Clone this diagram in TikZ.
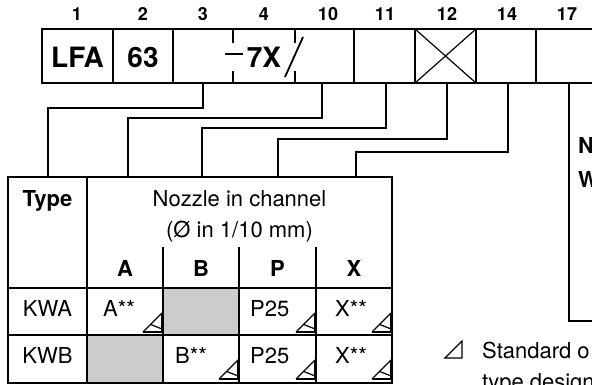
\documentclass[tikz,border=0pt]{standalone}
\usepackage{fontspec}
\setmainfont{TeX Gyre Heros}
\begin{document}
\begin{tikzpicture}[x=1pt,y=-1pt,
  boxline/.style={line width=2pt},
  tickline/.style={line width=1.6pt},
  conn/.style={line width=1.1pt},
  gridline/.style={line width=1.1pt},
  grayfill/.style={fill=cellgray, draw=none},
  boxtxt/.style={font=\fontsize{28}{28}\selectfont\bfseries, anchor=base, inner sep=0pt},
  lbl/.style={font=\fontsize{18}{18}\selectfont\bfseries, anchor=base, inner sep=0pt},
  tabtxt/.style={font=\fontsize{22}{22}\selectfont, anchor=base, inner sep=0pt},
  tabbold/.style={font=\fontsize{22}{22}\selectfont\bfseries, anchor=base, inner sep=0pt},
  celltxt/.style={font=\fontsize{22}{22}\selectfont, anchor=base west, inner sep=0pt},
  trithick/.style={line width=2pt},
  trithin/.style={line width=1.2pt},
]
\definecolor{cellgray}{RGB}{204,204,204}
\useasboundingbox (0,0) rectangle (592,385);

% ---------- top code box ----------
\draw[boxline] (600,29) -- (42,29) -- (42,83) -- (600,83);
\foreach \x in {113,173,354,415,476,536}
  \draw[boxline] (\x,29) -- (\x,83);
\draw[tickline] (233,29) -- (233,43) (233,71) -- (233,83)
                (295,29) -- (295,43) (295,71) -- (295,83);
\draw[line width=1.2pt] (415,29) -- (476,83) (415,83) -- (476,29);
\draw[tickline] (225,54) -- (243,54);
\draw[line width=1.8pt] (285,77) -- (303,37);

\node[boxtxt] (tLFA) at (77.5,68) {LFA};
\node[boxtxt] (t63) at (143,68) {63};
\node[boxtxt] (t7X) at (264,68) {7X};

% position labels
\node[lbl] (l1) at (77,21) {1};
\node[lbl] (l2) at (143,21) {2};
\node[lbl] (l3) at (203,21) {3};
\node[lbl] (l4) at (264,21) {4};
\node[lbl] (l10) at (328,21) {10};
\node[lbl] (l11) at (385,21) {11};
\node[lbl] (l12) at (447,21) {12};
\node[lbl] (l14) at (507,21) {14};
\node[lbl] (l17) at (567,21) {17};

% ---------- connectors ----------
\coordinate (s3) at (203,83);
\coordinate (s10) at (322,83);
\coordinate (s11) at (386,83);
\coordinate (s12) at (447,83);
\coordinate (s14) at (508,83);
\coordinate (s17) at (569,83);
\coordinate (t1) at (48,177);
\coordinate (t2) at (128,177);
\coordinate (t3) at (202,177);
\coordinate (t4) at (278,177);
\coordinate (t5) at (356,177);
\coordinate (e17) at (600,321);

\draw[conn] (s3) -- ++(0,25) -| (t1);
\draw[conn] (s10) -- ++(0,35) -| (t2);
\draw[conn] (s11) -- ++(0,45) -| (t3);
\draw[conn] (s12) -- ++(0,56) -| (t4);
\draw[conn] (s14) -- ++(0,69) -| (t5);
\draw[conn] (s17) |- (e17);

\node[font=\fontsize{22}{22}\selectfont\bfseries, anchor=base west, inner sep=0pt] (rN) at (578,154) {N};
\node[font=\fontsize{22}{22}\selectfont\bfseries, anchor=base west, inner sep=0pt] (rW) at (578,187) {W};

% ---------- table ----------
\fill[grayfill] (163,288) rectangle (239,335);
\fill[grayfill] (87,335) rectangle (163,383);
\draw[gridline] (8,177) rectangle (392,383);
\draw[gridline] (87,177) -- (87,383);
\foreach \x in {163,239,316}
  \draw[gridline] (\x,247) -- (\x,383);
\draw[gridline] (8,288) -- (392,288) (8,335) -- (392,335);

\node[tabbold] (hType) at (47.5,207) {Type};
\node[tabtxt] (hNoz) at (239.5,207) {Nozzle in channel};
\node[tabtxt] (hDia) at (239.5,237) {(Ø in 1/10 mm)};
\node[tabbold] (hA) at (125,276) {A};
\node[tabbold] (hB) at (201,276) {B};
\node[tabbold] (hP) at (277.5,276) {P};
\node[tabbold] (hX) at (354,276) {X};

\node[tabtxt] (rKWA) at (47.5,316) {KWA};
\node[tabtxt] (rKWB) at (47.5,363) {KWB};
\node[celltxt] (cA1) at (103,316) {A**};
\node[celltxt] (cP1) at (250,316) {P25};
\node[celltxt] (cX1) at (335,316) {X**};
\node[celltxt] (cB2) at (175,363) {B**};
\node[celltxt] (cP2) at (250,363) {P25};
\node[celltxt] (cX2) at (335,363) {X**};

% standard-orifice triangles
\foreach \bx/\by in {162/332, 315/332, 391/332, 238/379, 315/379, 391/379}{
  \draw[trithick] (\bx-19,\by) -- (\bx,\by) -- (\bx,\by-19);
  \draw[trithin] (\bx-19,\by) -- (\bx,\by-19);
  \draw[trithin] (\bx-11.4,\by-7.6) -- (\bx,\by-3);
}

% legend
\draw[trithin, line join=miter] (445,358) -- (462,358) -- (462,341) -- cycle;
\node[celltxt] (legA) at (482,358) {Standard o};
\node[celltxt] (legB) at (482,389) {type design};
\end{tikzpicture}
\end{document}
